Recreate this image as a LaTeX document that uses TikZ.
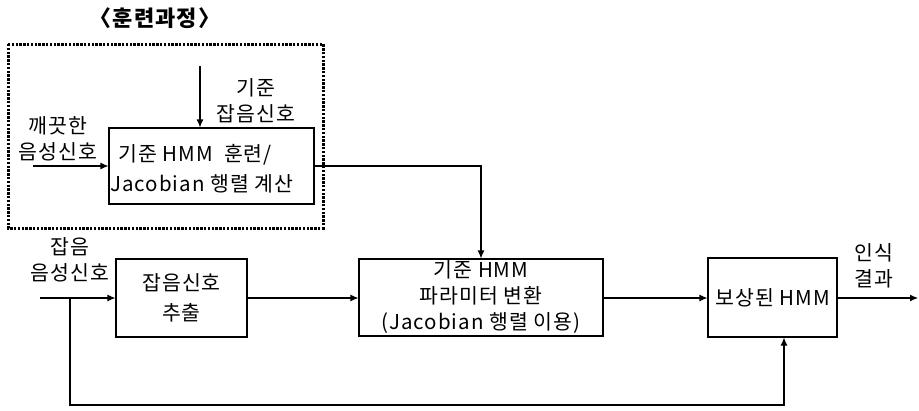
\documentclass[tikz,border=0pt]{standalone}
\usepackage{fontspec}
\setmainfont{Noto Sans CJK KR}[LetterSpace=5]
\usetikzlibrary{arrows.meta}
\begin{document}
\begin{tikzpicture}[x=1pt,y=-1pt,
  every node/.style={font=\fontsize{20.5}{24}\selectfont, inner sep=0pt},
  blk/.style={draw, line width=1.1pt, align=center},
  lbl/.style={align=center, font=\fontsize{20.5}{26}\selectfont},
  arr/.style={line width=1.1pt, -{Latex[length=8pt,width=7pt]}},
  ln/.style={line width=1.1pt}]
\useasboundingbox (0,0) rectangle (919,410);
\fill[white] (0,0) rectangle (919,410);
% training region
\node[font=\fontsize{22}{24}\selectfont\bfseries] (title) at (155,18) {〈훈련과정〉};
\draw[line width=3pt, dash pattern=on 2.4pt off 1.4pt] (8,44) rectangle (323,228);
\node[blk, minimum width=205pt, minimum height=76pt, align=left] (train) at (211.5,166) {};
\node[anchor=west] (t1) at (118,155) {기준 HMM\ \ 훈련/};
\node[anchor=west] (t2) at (110,184) {Jacobian 행렬 계산};
\node[lbl] (ref) at (256,101) {기준\\잡음신호};
\node[lbl] (clean) at (58,139) {깨끗한\\음성신호};
\coordinate (refin) at (200,66);
\coordinate (cleanin) at (33,166);
\draw[arr] (refin) -- (refin |- train.north);
\draw[arr] (cleanin) -- (train.west |- cleanin);
% main chain
\node[blk, minimum width=131pt, minimum height=78pt, font=\fontsize{20.5}{30}\selectfont] (ext) at (181.5,298) {잡음신호\\추출};
\node[blk, minimum width=244pt, minimum height=77pt, font=\fontsize{20.5}{26}\selectfont] (par) at (481,297.5) {기준 HMM\\파라미터 변환\\(Jacobian 행렬 이용)};
\node[blk, minimum width=129pt, minimum height=79pt] (comp) at (772.5,297.5) {보상된 HMM};
\node[lbl] (noisy) at (70,260) {잡음\\음성신호};
\node[lbl] (res) at (874,266) {인식\\결과};
\coordinate (nin) at (40,298);
\coordinate (junc) at (70,298);
\coordinate (out) at (918,298);
\coordinate (bl) at (70,405);
\coordinate (br) at (784,405);
\draw[arr] (nin) -- (ext.west |- nin);
\draw[arr] (ext.east |- nin) -- (par.west |- nin);
\draw[arr] (par.east |- nin) -- (comp.west |- nin);
\draw[arr] (comp.east |- nin) -- (out);
\draw[arr] (train.east) -- (481,166) -- (par.north);
\draw[arr] (junc) -- (bl) -- (br) -- (comp.south -| br);
\end{tikzpicture}
\end{document}
